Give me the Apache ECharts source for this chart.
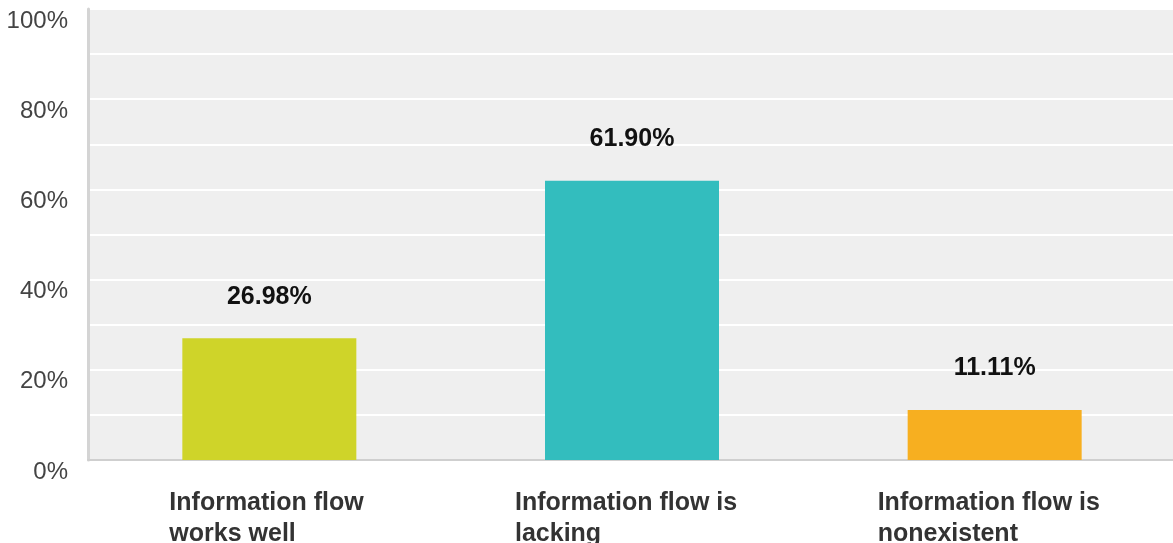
<!DOCTYPE html>
<html>
<head>
<meta charset="utf-8">
<script src="https://cdn.jsdelivr.net/npm/echarts@6/dist/echarts.min.js"></script>
<style>
  html, body { margin: 0; padding: 0; background: #fff; }
  #chart { width: 1173px; height: 543px; }
</style>
</head>
<body>
<div id="chart"></div>
<script>
var categories = ['Information flow\nworks well', 'Information flow is\nlacking', 'Information flow is\nnonexistent'];
var values = [26.98, 61.90, 11.11];
var barColors = ['#cfd429', '#33bdbe', '#f7af20'];
var yTicks = [0, 20, 40, 60, 80, 100];

var chart = echarts.init(document.getElementById('chart'));
chart.setOption({
  animation: false,
  grid: {
    left: 88, right: -3, top: 9, bottom: 83,
    outerBoundsMode: 'none',
    show: true, backgroundColor: '#efefef', borderWidth: 0
  },
  xAxis: {
    type: 'category',
    data: categories,
    axisTick: { show: false },
    axisLine: { lineStyle: { color: '#cfcfcf', width: 2 } },
    axisLabel: {
      margin: 28,
      formatter: function (v, i) {
        var lines = v.split('\n');
        var key = i === 0 ? 'a' : 'b';
        return lines.map(function (l) { return '{' + key + '|' + l + '}'; }).join('\n');
      },
      rich: {
        a: { width: 200, align: 'left', fontFamily: 'Liberation Sans, Arial', fontWeight: 'bold', fontSize: 25, color: '#333', lineHeight: 31 },
        b: { width: 234, align: 'left', fontFamily: 'Liberation Sans, Arial', fontWeight: 'bold', fontSize: 25, color: '#333', lineHeight: 31 }
      }
    }
  },
  yAxis: {
    type: 'value',
    min: 0, max: 100, interval: 20,
    axisLine: { show: true, lineStyle: { color: '#d4d4d4', width: 3 } },
    axisTick: { show: false },
    axisLabel: {
      margin: 20,
      verticalAlign: 'top',
      color: '#444',
      fontFamily: 'Liberation Sans, Arial',
      fontSize: 24,
      formatter: function (v) { return yTicks.indexOf(v) >= 0 ? v + '%' : ''; }
    },
    splitLine: { lineStyle: { color: '#ffffff', width: 2 } },
    minorTick: { show: false, splitNumber: 2 },
    minorSplitLine: { show: true, lineStyle: { color: '#ffffff', width: 2 } }
  },
  series: [{
    type: 'bar',
    barWidth: 174,
    data: values.map(function (v, i) { return { value: v, itemStyle: { color: barColors[i] } }; }),
    label: {
      show: true,
      position: 'top',
      distance: 29,
      fontFamily: 'Liberation Sans, Arial',
      fontWeight: 'bold',
      fontSize: 25,
      color: '#111',
      formatter: function (p) { return p.value.toFixed(2) + '%'; }
    }
  }]
});
</script>
</body>
</html>
